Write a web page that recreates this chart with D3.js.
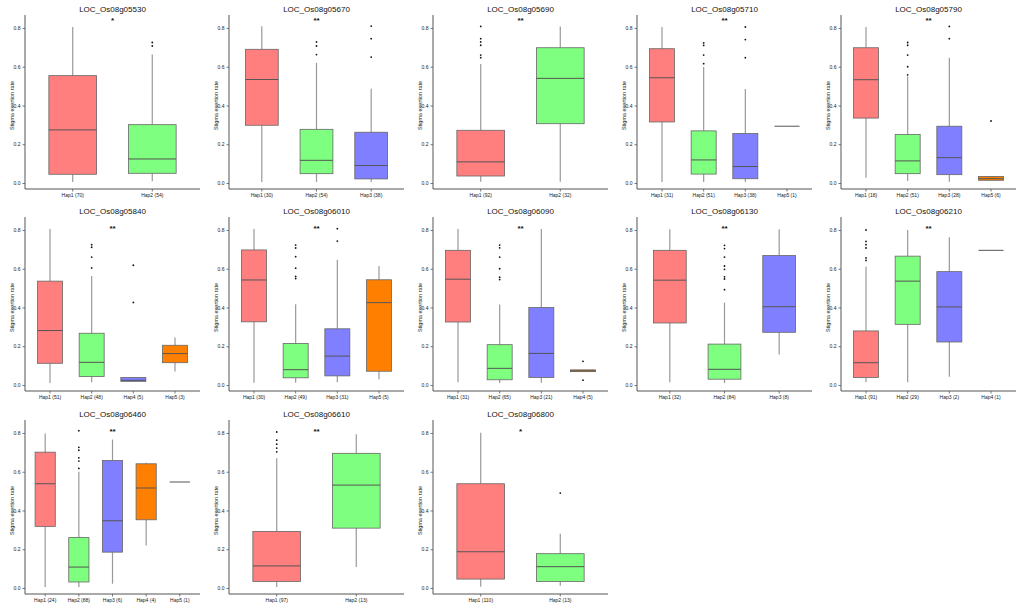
<!DOCTYPE html>
<html>
<head>
<script src="https://cdn.jsdelivr.net/npm/d3@7"></script>
<style>
  body { margin: 0; background: #fff; }
  text { font-family: Arial, "Liberation Sans", sans-serif; }
</style>
</head>
<body>
<div id="chart"></div>
<script>
// gene names, one panel each
var genes = ["LOC_Os08g05530", "LOC_Os08g05670", "LOC_Os08g05690", "LOC_Os08g05710", "LOC_Os08g05790",
             "LOC_Os08g05840", "LOC_Os08g06010", "LOC_Os08g06090", "LOC_Os08g06130", "LOC_Os08g06210",
             "LOC_Os08g06460", "LOC_Os08g06610", "LOC_Os08g06800"];
var signif = ["*", "**", "**", "**", "**", "**", "**", "**", "**", "**", "**", "**", "*"];

var haps = [
  ["Hap1", "Hap2"], ["Hap1", "Hap2", "Hap3"], ["Hap1", "Hap2"], ["Hap1", "Hap2", "Hap3", "Hap5"],
  ["Hap1", "Hap2", "Hap3", "Hap5"], ["Hap1", "Hap2", "Hap4", "Hap5"], ["Hap1", "Hap2", "Hap3", "Hap5"],
  ["Hap1", "Hap2", "Hap3", "Hap4"], ["Hap1", "Hap2", "Hap3"], ["Hap1", "Hap2", "Hap3", "Hap4"],
  ["Hap1", "Hap2", "Hap3", "Hap4", "Hap5"], ["Hap1", "Hap2"], ["Hap1", "Hap2"]
];
var counts = [
  [70, 54], [30, 54, 38], [92, 32], [31, 51, 38, 1], [18, 51, 28, 6], [51, 48, 5, 3], [30, 49, 31, 5],
  [31, 65, 21, 5], [32, 84, 8], [91, 29, 2, 1], [24, 88, 6, 4, 1], [97, 13], [110, 13]
];

// box statistics
var whiskLo = [
  [0.005, 0.009], [0.005, 0.005, 0.005], [0.007, 0.007], [0.005, 0.005, 0.005, 0.293],
  [0.027, 0.010, 0.007, 0.014], [0.010, 0.014, 0.018, 0.069], [0.012, 0.012, 0.014, 0.029],
  [0.014, 0.010, 0.012, 0.069], [0.014, 0.010, 0.157], [0.014, 0.014, 0.042, 0.695],
  [0.005, 0.005, 0.022, 0.219, 0.547], [0.005, 0.108], [0.007, 0.012]
];
var q1 = [
  [0.045, 0.050], [0.298, 0.048, 0.021], [0.036, 0.306], [0.315, 0.046, 0.022, 0.293],
  [0.335, 0.048, 0.043, 0.014], [0.112, 0.044, 0.019, 0.115], [0.326, 0.037, 0.047, 0.071],
  [0.325, 0.027, 0.039, 0.069], [0.320, 0.030, 0.272], [0.039, 0.313, 0.222, 0.695],
  [0.318, 0.031, 0.185, 0.352, 0.547], [0.034, 0.309], [0.046, 0.034]
];
var med = [
  [0.274, 0.124], [0.534, 0.117, 0.090], [0.109, 0.540], [0.543, 0.119, 0.085, 0.293],
  [0.533, 0.114, 0.131, 0.022], [0.281, 0.117, 0.024, 0.162], [0.542, 0.079, 0.149, 0.425],
  [0.546, 0.086, 0.163, 0.073], [0.541, 0.081, 0.404], [0.115, 0.536, 0.403, 0.695],
  [0.538, 0.108, 0.347, 0.516, 0.547], [0.114, 0.531], [0.187, 0.110]
];
var q3 = [
  [0.554, 0.301], [0.690, 0.277, 0.262], [0.272, 0.698], [0.693, 0.269, 0.255, 0.293],
  [0.698, 0.250, 0.293, 0.034], [0.536, 0.267, 0.039, 0.205], [0.697, 0.214, 0.290, 0.543],
  [0.695, 0.208, 0.400, 0.078], [0.695, 0.211, 0.668], [0.279, 0.665, 0.585, 0.695],
  [0.701, 0.260, 0.658, 0.641, 0.547], [0.292, 0.695], [0.538, 0.177]
];
var whiskHi = [
  [0.805, 0.663], [0.809, 0.620, 0.487], [0.614, 0.808], [0.805, 0.599, 0.485, 0.293],
  [0.805, 0.550, 0.647, 0.036], [0.805, 0.563, 0.039, 0.245], [0.805, 0.417, 0.646, 0.614],
  [0.805, 0.415, 0.805, 0.078], [0.804, 0.425, 0.804], [0.612, 0.800, 0.763, 0.695],
  [0.797, 0.600, 0.766, 0.646, 0.547], [0.669, 0.793], [0.801, 0.280]
];
var outliers = [
  [[], [0.725, 0.707]],
  [[], [0.728, 0.707, 0.663], [0.810, 0.745, 0.650]],
  [[0.808, 0.745, 0.728, 0.711, 0.660, 0.647], []],
  [[], [0.723, 0.710, 0.660, 0.616], [0.805, 0.740, 0.647], []],
  [[], [0.725, 0.711, 0.660, 0.600, 0.558], [0.808, 0.745], [0.320]],
  [[], [0.724, 0.711, 0.660, 0.604], [0.618, 0.426], []],
  [[], [0.722, 0.707, 0.662, 0.603, 0.560, 0.549], [0.807, 0.743], []],
  [[], [0.722, 0.708, 0.660, 0.600, 0.556, 0.544], [], [0.122, 0.025]],
  [[], [0.721, 0.704, 0.660, 0.614, 0.597, 0.558, 0.547, 0.492], []],
  [[0.800, 0.741, 0.724, 0.707, 0.656, 0.643], [], [], []],
  [[], [0.812, 0.726, 0.711, 0.672, 0.655, 0.617], [], [], []],
  [[0.805, 0.763, 0.742, 0.722, 0.703], []],
  [[], [0.490]]
];

var fills = ["#ff7f7f", "#7fff7f", "#7f7fff", "#ff8000", "#ff8000"];

var W = 1021, H = 613;
var panelW = 204, rowTops = [0, 202, 405];
var padL = 25, padR = 200, padT = 15, padB = 189;

var svg = d3.select("#chart").append("svg").attr("width", W).attr("height", H);

genes.forEach(function(gene, i) {
  var col = i % 5, row = Math.floor(i / 5);
  var g = svg.append("g").attr("transform", "translate(" + (col * panelW) + "," + rowTops[row] + ")");

  var labels = haps[i].map(function(h, j) { return h + " (" + counts[i][j] + ")"; });
  var x = d3.scaleBand().domain(labels).range([padL, padR]).paddingInner(0.4).paddingOuter(0.3);
  var y = d3.scaleLinear().domain([-0.031, 0.867]).range([padB, padT]);

  // axes
  var ya = g.append("g").attr("transform", "translate(" + padL + ",0)")
    .call(d3.axisLeft(y).tickValues([0, 0.2, 0.4, 0.6, 0.8]).tickFormat(d3.format(".1f")).tickSize(2.5).tickPadding(2));
  var xa = g.append("g").attr("transform", "translate(0," + padB + ")")
    .call(d3.axisBottom(x).tickSize(2.5).tickPadding(2).tickSizeOuter(0));
  [ya, xa].forEach(function(a) {
    a.select(".domain").attr("stroke", "#555").attr("stroke-width", 1);
    a.selectAll(".tick line").attr("stroke", "#555").attr("stroke-width", 0.8);
    a.selectAll(".tick text").attr("font-size", 5).attr("fill", "#222");
  });
  ya.select(".domain").attr("d", "M0," + padT + "V" + padB);
  xa.select(".domain").attr("d", "M" + padL + ",0H" + padR);

  // title
  g.append("text").attr("x", (padL + padR) / 2).attr("y", 12).attr("text-anchor", "middle")
    .attr("font-size", 8).attr("fill", "#111").text(gene);

  // y title
  g.append("text").attr("transform", "translate(14," + y(0.4) + ") rotate(-90)")
    .attr("text-anchor", "middle").attr("font-size", 5.5).attr("fill", "#222").text("Stigma exertion rate");

  // boxes
  labels.forEach(function(lab, j) {
    var cx = x(lab) + x.bandwidth() / 2, bw = x.bandwidth();
    if (whiskHi[i][j] > q3[i][j]) {
      g.append("line").attr("x1", cx).attr("x2", cx).attr("y1", y(q3[i][j])).attr("y2", y(whiskHi[i][j]))
        .attr("stroke", "#999").attr("stroke-width", 1.2);
    }
    if (whiskLo[i][j] < q1[i][j]) {
      g.append("line").attr("x1", cx).attr("x2", cx).attr("y1", y(q1[i][j])).attr("y2", y(whiskLo[i][j]))
        .attr("stroke", "#999").attr("stroke-width", 1.2);
    }
    if (q3[i][j] > q1[i][j]) {
      g.append("rect").attr("x", x(lab)).attr("width", bw)
        .attr("y", y(q3[i][j])).attr("height", y(q1[i][j]) - y(q3[i][j]))
        .attr("fill", fills[j]).attr("stroke", "#666").attr("stroke-width", 0.8);
    }
    g.append("line").attr("x1", x(lab)).attr("x2", x(lab) + bw)
      .attr("y1", y(med[i][j])).attr("y2", y(med[i][j]))
      .attr("stroke", "#555").attr("stroke-width", 1);
    g.selectAll(null).data(outliers[i][j]).enter().append("circle")
      .attr("cx", cx).attr("cy", function(d) { return y(d); }).attr("r", 0.9).attr("fill", "#111");
  });

  // significance label
  g.append("text").attr("x", (padL + padR) / 2).attr("y", y(row === 0 ? 0.845 : 0.815) + 3.5)
    .attr("text-anchor", "middle").attr("font-size", 8).attr("font-weight", "bold").attr("fill", "#111")
    .text(signif[i]);
});
</script>
</body>
</html>
